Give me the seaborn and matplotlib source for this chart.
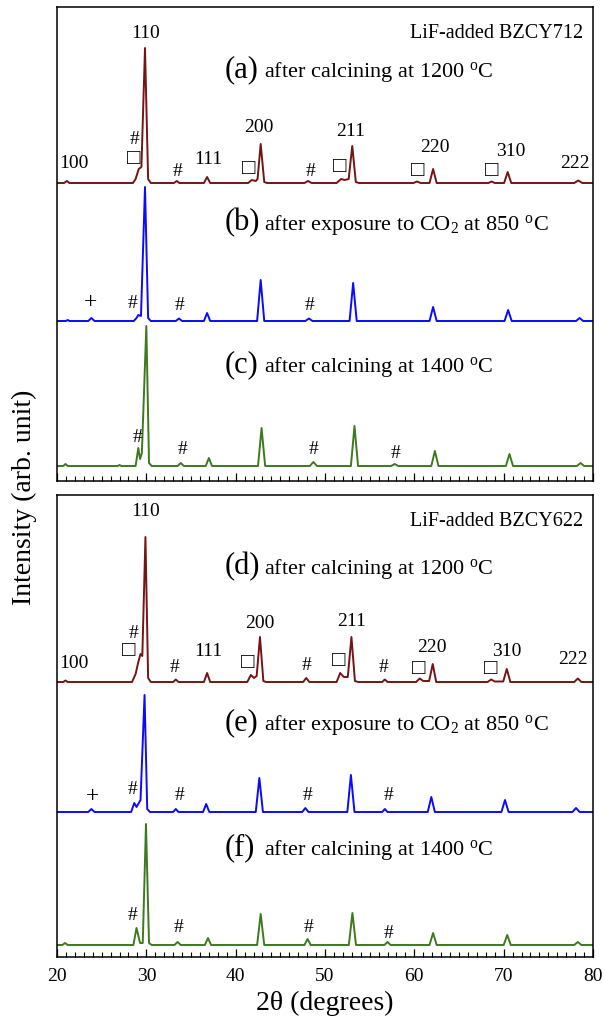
import numpy as np
import pandas as pd
import matplotlib
matplotlib.use("Agg")
import matplotlib.pyplot as plt
import seaborn as sns
from matplotlib.ticker import MultipleLocator

# ============================================================
# Data
# 2theta vertices (deg) and intensity above each trace's baseline
# ============================================================

# --- LiF-added BZCY712 ---
tt_a = [20, 20.8, 21.1, 21.4, 28.5, 28.8, 29.15, 29.45, 29.85, 30.2, 30.5,
        33.1, 33.4, 33.7, 36.45, 36.8, 37.15, 41.4, 41.8, 42.25, 42.45, 42.8, 43.2, 43.5,
        47.7, 48.1, 48.5, 51.3, 51.8, 52.2, 52.65, 53.05, 53.45, 53.8,
        59.9, 60.3, 60.7, 61.7, 62.1, 62.5, 68.3, 68.65, 69.0, 70.05, 70.45, 70.85,
        77.9, 78.35, 78.8, 80]
int_a = [0, 0, 2, 0, 0, 4, 14, 16, 135, 4, 0,
         0, 2, 0, 0, 6, 0, 0, 3, 2, 4, 39, 1, 0,
         0, 2, 0, 0, 4, 3, 4, 37, 1, 0,
         0, 1.5, 0, 0, 14, 0, 0, 1.5, 0, 0, 11, 0,
         0, 2.5, 0, 0]

tt_b = [20, 21.0, 21.2, 21.4, 23.5, 23.85, 24.2, 28.6, 28.9, 29.1, 29.4, 29.85, 30.2, 30.5,
        33.3, 33.65, 34.0, 36.45, 36.8, 37.15, 42.4, 42.8, 43.2, 47.8, 48.2, 48.6,
        52.75, 53.15, 53.55, 61.7, 62.1, 62.5, 70.1, 70.5, 70.9, 78.1, 78.5, 78.9, 80]
int_b = [0, 0, 1, 0, 0, 3, 0, 0, 3, 6, 5, 134, 3, 0,
         0, 2.5, 0, 0, 8, 0, 0, 41, 0, 0, 2.5, 0,
         0, 38, 0, 0, 14, 0, 0, 11, 0, 0, 3, 0, 0]

tt_c = [20, 20.7, 20.95, 21.2, 26.8, 27.0, 27.2, 28.8, 29.1, 29.3, 29.5, 30.0, 30.3, 30.6,
        33.5, 33.85, 34.2, 36.65, 37.0, 37.35, 42.5, 42.9, 43.3, 48.3, 48.7, 49.1,
        52.9, 53.3, 53.7, 57.4, 57.8, 58.2, 61.9, 62.3, 62.7, 70.25, 70.65, 71.05,
        78.2, 78.6, 79.0, 80]
int_c = [0, 0, 2, 0, 0, 1, 0, 0, 18, 7, 13, 140, 3, 0,
         0, 3, 0, 0, 8, 0, 0, 38, 0, 0, 4, 0,
         0, 40, 0, 0, 2, 0, 0, 15, 0, 0, 12, 0,
         0, 3, 0, 0]

# --- LiF-added BZCY622 ---
tt_d = [20, 20.7, 20.95, 21.2, 28.4, 28.8, 29.1, 29.35, 29.55, 29.9, 30.2, 30.5,
        33.0, 33.3, 33.6, 36.45, 36.8, 37.15, 41.3, 41.7, 42.05, 42.35, 42.72, 43.1, 43.4,
        47.55, 47.9, 48.25, 51.3, 51.7, 52.1, 52.55, 52.96, 53.35, 53.7,
        56.4, 56.7, 57.0, 60.2, 60.6, 61.0, 61.66, 62.06, 62.45,
        68.2, 68.6, 69.0, 69.95, 70.35, 70.75, 77.9, 78.3, 78.7, 80]
int_d = [0, 0, 1.5, 0, 0, 8, 20, 28, 26, 145, 4, 0,
         0, 2.5, 0, 0, 9, 0, 0, 7, 4, 6, 45, 1, 0,
         0, 4, 0, 0, 9, 5, 5, 45, 1, 0,
         0, 2.5, 0, 0, 3.5, 1, 1, 18, 0,
         0, 2.5, 0.5, 0.5, 13, 0, 0, 3.5, 0, 0]

tt_e = [20, 23.5, 23.85, 24.2, 28.3, 28.65, 28.9, 29.35, 29.8, 30.1, 30.4,
        33.0, 33.3, 33.6, 36.35, 36.7, 37.05, 42.25, 42.65, 43.05, 47.45, 47.8, 48.15,
        52.5, 52.9, 53.3, 56.4, 56.7, 57.0, 61.5, 61.9, 62.3, 69.75, 70.15, 70.55,
        77.7, 78.1, 78.5, 80]
int_e = [0, 0, 3, 0, 0, 9, 5, 12, 117, 3, 0,
         0, 3, 0, 0, 8, 0, 0, 34, 0, 0, 4, 0,
         0, 37, 0, 0, 3, 0, 0, 15, 0, 0, 12, 0,
         0, 4, 0, 0]

tt_f = [20, 20.6, 20.9, 21.2, 28.55, 28.9, 29.3, 29.6, 29.96, 30.3, 30.6,
        33.15, 33.5, 33.85, 36.55, 36.9, 37.25, 42.4, 42.8, 43.2, 47.7, 48.05, 48.4,
        52.67, 53.07, 53.47, 56.65, 57.0, 57.35, 61.7, 62.1, 62.5, 70.0, 70.4, 70.8,
        77.9, 78.3, 78.7, 80]
int_f = [0, 0, 2, 0, 0, 17, 2, 2, 121, 2, 0,
         0, 3, 0, 0, 7, 0, 0, 31, 0, 0, 6, 0,
         0, 32, 0, 0, 3, 0, 0, 12, 0, 0, 10, 0,
         0, 3, 0, 0]

# vertical stacking offsets (arb. unit)
offset_top = [298, 160, 15]
offset_bot = [275, 145, 12]

colors = ["#741414", "#0a0aff", "#3d7a1f"]

# panel / sample captions
sample_names = ["LiF-added BZCY712", "LiF-added BZCY622"]
letters_top = ["(a)", "(b)", "(c)"]
letters_bot = ["(d)", "(e)", "(f)"]
conditions = ["after calcining at 1200 $^{\\mathrm{o}}$C",
              "after exposure to CO$_2$ at 850 $^{\\mathrm{o}}$C",
              "after calcining at 1400 $^{\\mathrm{o}}$C"]
caption_y_top = [404, 251, 109]
caption_y_bot = [383, 227, 102]

# Miller indices (labels above the first trace of each panel)
hkl = ["110", "111", "200", "211", "220", "310", "222"]
hkl_x_top = [29.95, 36.9, 42.6, 52.9, 62.3, 70.8, 78.0]
hkl_y_top = [448, 321, 353, 350, 334, 329, 318]
hkl_x_bot = [29.9, 36.9, 42.7, 53.0, 62.0, 70.35, 77.7]
hkl_y_bot = [445, 305, 334, 335, 310, 305, 297]

# impurity markers: (symbol, x, y)
marks_top = [("□", 28.6, 322), ("#", 28.73, 342), ("#", 33.47, 309), ("□", 41.5, 312),
             ("#", 48.4, 309), ("□", 51.6, 313), ("□", 60.4, 310), ("□", 68.7, 309),
             ("+", 23.8, 178), ("#", 28.4, 178), ("#", 33.7, 176), ("#", 48.3, 176),
             ("#", 29.0, 44), ("#", 34.05, 31), ("#", 48.75, 31), ("#", 57.9, 28)]
marks_bot = [("□", 28.0, 305), ("#", 28.6, 324), ("#", 33.2, 290), ("□", 41.4, 294),
             ("#", 47.9, 291), ("□", 51.5, 296), ("#", 56.6, 290), ("□", 60.5, 287),
             ("□", 68.5, 287),
             ("+", 24.0, 160), ("#", 28.5, 168), ("#", 33.7, 162), ("#", 48.05, 162),
             ("#", 57.1, 162),
             ("#", 28.5, 42), ("#", 33.6, 29), ("#", 48.1, 29), ("#", 57.1, 24)]

# ============================================================
# Style
# ============================================================

sns.set_style("ticks")
plt.rcParams["font.family"] = ["Liberation Serif", "DejaVu Sans"]
plt.rcParams["mathtext.fontset"] = "custom"
plt.rcParams["mathtext.rm"] = "Liberation Serif"
plt.rcParams["mathtext.it"] = "Liberation Serif:italic"
plt.rcParams["axes.linewidth"] = 1.1
plt.rcParams["axes.edgecolor"] = "black"
plt.rcParams["text.color"] = "black"
plt.rcParams["axes.labelcolor"] = "black"
plt.rcParams["xtick.color"] = "black"

fig = plt.figure(figsize=(6.05, 10.18), dpi=100)
ax_top = fig.add_axes([57 / 605, 1 - 481 / 1018, 536 / 605, 474 / 1018])
ax_bot = fig.add_axes([57 / 605, 1 - 957 / 1018, 536 / 605, 462 / 1018])


def build_frame(traces, offsets):
    rows = []
    for name, (tt, inten), off in zip("abc", traces, offsets):
        for x, y in zip(tt, inten):
            rows.append({"tt": x, "I": y + off, "trace": name})
    return pd.DataFrame(rows)


df_top = build_frame([(tt_a, int_a), (tt_b, int_b), (tt_c, int_c)], offset_top)
df_bot = build_frame([(tt_d, int_d), (tt_e, int_e), (tt_f, int_f)], offset_bot)

panels = [
    (ax_top, df_top, 474, sample_names[0], letters_top, caption_y_top,
     hkl_x_top, hkl_y_top, marks_top, 317),
    (ax_bot, df_bot, 462, sample_names[1], letters_bot, caption_y_bot,
     hkl_x_bot, hkl_y_bot, marks_bot, 294),
]

for ax, df, ytop, sname, letters, cap_y, hx, hy, marks, y100 in panels:
    sns.lineplot(data=df, x="tt", y="I", hue="trace", palette=colors,
                 estimator=None, sort=False, legend=False, lw=1.4, ax=ax)
    ax.set_xlim(20, 80)
    ax.set_ylim(0, ytop)
    ax.set_yticks([])
    ax.set_xlabel("")
    ax.set_ylabel("")
    ax.xaxis.set_major_locator(MultipleLocator(10))
    ax.xaxis.set_minor_locator(MultipleLocator(1))
    ax.tick_params(axis="x", which="major", direction="in", length=6,
                   width=0.9, labelsize=14, pad=8, color="black")
    ax.tick_params(axis="x", which="minor", direction="in", length=3.5,
                   width=0.8, color="black")
    for sp in ax.spines.values():
        sp.set_visible(True)
        sp.set_linewidth(1.1)
        sp.set_color("black")

    ax.text(78.9, ytop - 27, sname, fontsize=14.5, ha="right", va="center")
    for let, cond, yy in zip(letters, conditions, cap_y):
        ax.text(38.8, yy, let, fontsize=22, ha="left", va="baseline")
        ax.text(43.2, yy, cond, fontsize=16, ha="left", va="baseline")

    ax.text(20.3, y100, "100", fontsize=14, ha="left", va="center")
    for lab, x, y in zip(hkl, hx, hy):
        ax.text(x, y, lab, fontsize=14, ha="center", va="center")
    for sym, x, y in marks:
        fs = {"□": 16, "#": 14, "+": 17}[sym]
        ax.text(x, y, sym, fontsize=fs, ha="center", va="center")

ax_top.tick_params(axis="x", labelbottom=False)

ax_bot.set_xlabel("2θ (degrees)", fontsize=20, labelpad=4)
fig.text(24 / 605, 1 - 497 / 1018, "Intensity (arb. unit)", rotation=90,
         fontsize=20, ha="center", va="center")

fig.savefig("out.png", dpi=100)
